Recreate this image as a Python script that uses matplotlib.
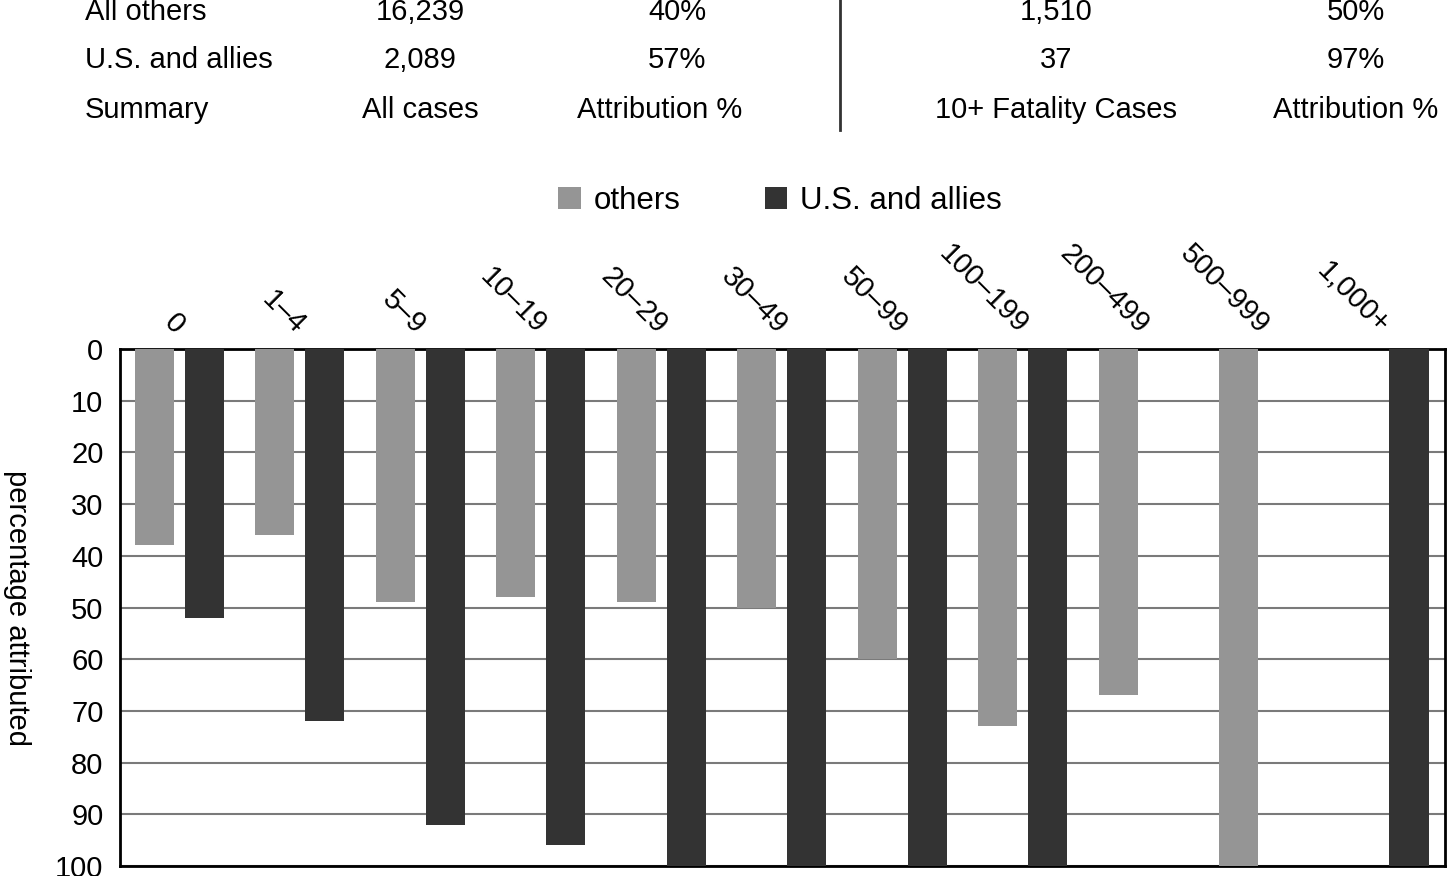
import numpy as np
import matplotlib.pyplot as plt

plt.rcParams['font.family'] = ['Liberation Sans', 'DejaVu Sans']

# fatality bins and share of cases attributed (%)
categories = ['0', '1–4', '5–9', '10–19', '20–29', '30–49', '50–99',
              '100–199', '200–499', '500–999', '1,000+']
others = [38, 36, 49, 48, 49, 50, 60, 73, 67, 100, 0]
us_allies = [52, 72, 92, 96, 100, 100, 100, 100, 0, 0, 100]

# summary table
table_header = ['Summary', 'All cases', 'Attribution %', '10+ Fatality Cases', 'Attribution %']
table_rows = [
    ['U.S. and allies', '2,089', '57%', '37', '97%'],
    ['All others', '16,239', '40%', '1,510', '50%'],
]

GRAY = '#959595'
DARK = '#333333'

fig = plt.figure(figsize=(14.47, 8.76), dpi=100)
ax = fig.add_axes([0.083, 0.0114, 0.9157, 0.5902])

x = np.arange(len(categories))
w = 0.325
ax.bar(x - 0.215, others, w, color=GRAY, label='others', zorder=3)
ax.bar(x + 0.2, us_allies, w, color=DARK, label='U.S. and allies', zorder=3)

ax.set_xlim(-0.5, len(categories) - 0.5)
ax.set_ylim(100, 0)          # bars hang from the top, as in the picture
ax.set_yticks(np.arange(0, 101, 10))
ax.yaxis.grid(True, color='#7a7a7a', lw=1.5, zorder=0)
ax.tick_params(axis='y', length=0, pad=12, labelsize=21)

ax.xaxis.tick_top()
ax.set_xticks(x)
ax.set_xticklabels(categories, rotation=-45, ha='right', va='center',
                   rotation_mode='anchor', fontsize=21)
ax.tick_params(axis='x', length=0, pad=14)

for s in ax.spines.values():
    s.set_linewidth(2)
    s.set_color('black')

ax.set_ylabel('percentage attributed', fontsize=21, rotation=270)
ax.yaxis.set_label_coords(-0.088, 0.5)

fig.legend(loc='center', bbox_to_anchor=(0.539, 1 - 201 / 876), ncol=2,
           frameon=False, fontsize=22.5, handlelength=0.72, handleheight=0.72,
           columnspacing=2.7, handletextpad=0.4)

# summary table above the chart
col_x = [85, 420, 660, 1056, 1356]
row_y = [110, 60, 12]
for j, txt in enumerate(table_header):
    fig.text(col_x[j] / 1447, 1 - row_y[0] / 876, txt, fontsize=21,
             ha='left' if j == 0 else 'center', va='center')
for i, row in enumerate(table_rows):
    for j, txt in enumerate(row):
        xx = 677 if j == 2 else col_x[j]
        fig.text(xx / 1447, 1 - row_y[i + 1] / 876, txt, fontsize=21,
                 ha='left' if j == 0 else 'center', va='center')
fig.add_artist(plt.Line2D([840 / 1447, 840 / 1447], [1 - 130 / 876, 1.0],
                          color='#333333', lw=2))

fig.savefig('out.png', dpi=100)
